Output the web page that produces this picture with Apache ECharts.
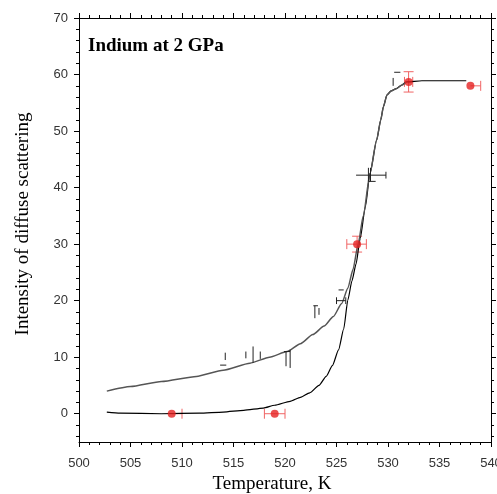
<!DOCTYPE html>
<html>
<head>
<meta charset="utf-8">
<script src="https://cdn.jsdelivr.net/npm/echarts@6/dist/echarts.min.js"></script>
<style>html,body{margin:0;padding:0;background:#fff;}#c{width:497px;height:494px;}</style>
</head>
<body>
<div id="c"></div>
<script>
// ---- data ----
const xTicks = [500, 505, 510, 515, 520, 525, 530, 535, 540];
const yTicks = [0, 10, 20, 30, 40, 50, 60, 70];
const yMinorTicks = [-4, -2, 2, 4, 6, 8, 12, 14, 16, 18, 22, 24, 26, 28, 32, 34, 36, 38, 42, 44, 46, 48, 52, 54, 56, 58, 62, 64, 66, 68];

// lower (heating) curve, black
const curveLower = [
  [502.7, 0.3], [504, 0.1], [508, 0.0], [511.7, 0.1], [514, 0.3], [516, 0.6], [517.9, 1.0],
  [519, 1.5], [520.5, 2.2], [521.5, 2.9], [522.4, 3.7], [523.3, 5.0], [524.0, 6.6], [524.6, 8.5],
  [525.2, 11.3], [525.7, 15.0], [526.1, 20.1], [526.5, 23.5], [526.9, 26.5], [527.3, 31.0],
  [527.8, 36.6], [528.25, 42.5], [528.9, 48.4], [529.3, 52.0], [529.55, 54.3], [529.9, 56.4],
  [530.3, 57.1], [530.8, 57.5], [531.3, 58.1], [531.8, 58.7], [533.3, 58.9], [537.6, 58.9]
];
// upper (cooling) curve, gray
const curveUpper = [
  [502.7, 4.0], [505, 4.8], [508, 5.7], [511.4, 6.6], [514, 7.7], [516.6, 8.95], [518.5, 10.0],
  [520.2, 11.0], [521.5, 12.4], [522.7, 14.0], [523.8, 15.5], [524.7, 17.2], [525.5, 19.5],
  [526.1, 22.2], [526.6, 25.5], [527.1, 30.0], [527.6, 35.0], [528.25, 42.5], [528.9, 48.4],
  [529.3, 52.0], [529.55, 54.3], [529.9, 56.4], [530.3, 57.1], [530.8, 57.5], [531.3, 58.1], [531.8, 58.7]
];

// red measured points and their error ranges
const redPoints = [[509, 0], [519, 0], [527, 30], [532, 58.7], [538, 58]];
const redErrX = [[509, 510], [518, 520], [526, 527.9], [531.6, 532.4], [538, 539]];
const redErrY = [[0, 0], [0, 0], [28.6, 31.4], [56.9, 60.5], [58, 58]];

// black error-bar fragments (no markers)
const blackErrV = [ // [x, yLow, yHigh]
  [514.2, 9.5, 10.8], [516.2, 9.8, 11.0], [516.9, 9.0, 11.9], [517.6, 9.7, 11.0],
  [520.1, 8.4, 11.0], [520.5, 8.1, 11.3], [522.9, 16.9, 19.1], [523.3, 17.5, 18.7],
  [525.0, 19.4, 20.6], [525.9, 19.4, 20.6], [528.1, 41.1, 43.5], [528.3, 41.1, 43.5],
  [529.8, 41.6, 42.8], [530.5, 58.0, 59.4]
];
const blackErrH = [ // [xLow, xHigh, y]
  [513.7, 514.3, 8.6], [519.9, 520.5, 11.0], [522.75, 523.2, 19.1], [525.0, 525.9, 20.0],
  [525.2, 525.7, 21.9], [526.9, 529.8, 42.2], [528.1, 528.8, 41.1], [530.6, 531.2, 60.4]
];

// ---- chart ----
const chart = echarts.init(document.getElementById('c'), null, {renderer: 'canvas'});
const labelFont = {fontFamily: 'Liberation Sans', fontSize: 13, color: '#333'};
const nameFont = {fontFamily: 'Liberation Serif', fontSize: 19, color: '#000'};
const lineStyle = {color: '#000', width: 1};

function xAxisCfg(pos, showLabel) {
  return {
    type: 'value', position: pos, min: 500, max: 540, interval: 5,
    axisLine: {show: true, onZero: false, lineStyle: lineStyle},
    axisTick: {show: true, inside: false, length: 5, lineStyle: lineStyle},
    minorTick: {show: true, splitNumber: 5, length: 3, lineStyle: lineStyle},
    splitLine: {show: false}, minorSplitLine: {show: false},
    axisLabel: showLabel ? Object.assign({margin: 15, formatter: v => String(v)}, labelFont) : {show: false}
  };
}
function yAxisCfg(pos, major, showLabel) {
  return {
    type: 'value', position: pos, min: -5, max: 70, offset: 0,
    axisLine: {show: major, onZero: false, lineStyle: lineStyle},
    axisTick: {show: true, inside: false, length: major ? 5 : 3, lineStyle: lineStyle,
               customValues: major ? yTicks : yMinorTicks},
    splitLine: {show: false},
    axisLabel: showLabel ? Object.assign({margin: 11, customValues: yTicks}, labelFont) : {show: false}
  };
}

const xBottom = xAxisCfg('bottom', true);
xBottom.name = 'Temperature, K';
xBottom.nameLocation = 'middle';
xBottom.nameGap = 33;
xBottom.nameTextStyle = Object.assign({padding: [0, 26, 0, 0]}, nameFont);

const yLeft = yAxisCfg('left', true, true);
yLeft.name = 'Intensity of diffuse scattering';
yLeft.nameLocation = 'middle';
yLeft.nameGap = 46;
yLeft.nameTextStyle = Object.assign({padding: [0, 0, 0, 12]}, nameFont);

function errRender(items, kind, color) {
  return function (params, api) {
    const d = items[params.dataIndex];
    const children = [];
    const st = {stroke: color, lineWidth: 1};
    if (kind === 'red') {
      const p = redPoints[params.dataIndex];
      const ex = redErrX[params.dataIndex], ey = redErrY[params.dataIndex];
      const cap = 5;
      if (ex[1] > ex[0]) {
        const a = api.coord([ex[0], p[1]]), b = api.coord([ex[1], p[1]]);
        children.push({type: 'line', shape: {x1: a[0], y1: a[1], x2: b[0], y2: b[1]}, style: st});
        if (ex[0] < p[0]) children.push({type: 'line', shape: {x1: a[0], y1: a[1] - cap, x2: a[0], y2: a[1] + cap}, style: st});
        children.push({type: 'line', shape: {x1: b[0], y1: b[1] - cap, x2: b[0], y2: b[1] + cap}, style: st});
      }
      if (ey[1] > ey[0]) {
        const a = api.coord([p[0], ey[0]]), b = api.coord([p[0], ey[1]]);
        children.push({type: 'line', shape: {x1: a[0], y1: a[1], x2: b[0], y2: b[1]}, style: st});
        children.push({type: 'line', shape: {x1: a[0] - cap, y1: a[1], x2: a[0] + cap, y2: a[1]}, style: st});
        children.push({type: 'line', shape: {x1: b[0] - cap, y1: b[1], x2: b[0] + cap, y2: b[1]}, style: st});
      }
    } else if (kind === 'v') {
      const a = api.coord([d[0], d[1]]), b = api.coord([d[0], d[2]]);
      children.push({type: 'line', shape: {x1: a[0], y1: a[1], x2: b[0], y2: b[1]}, style: st});
    } else {
      const a = api.coord([d[0], d[2]]), b = api.coord([d[1], d[2]]);
      children.push({type: 'line', shape: {x1: a[0], y1: a[1], x2: b[0], y2: b[1]}, style: st});
    }
    return {type: 'group', children: children};
  };
}

const option = {
  animation: false,
  backgroundColor: '#fff',
  title: {
    text: 'Indium at 2 GPa', left: 83, top: 32,
    textStyle: {fontFamily: 'Liberation Serif', fontSize: 19, fontWeight: 'bold', color: '#000'}
  },
  grid: {left: 79, right: 6, top: 18, bottom: 52, containLabel: false, outerBoundsMode: 'none'},
  xAxis: [xBottom, xAxisCfg('top', false)],
  yAxis: [yLeft, yAxisCfg('right', true, false), yAxisCfg('left', false, false), yAxisCfg('right', false, false)],
  series: [
    {type: 'line', data: curveLower, showSymbol: false, smooth: 0.2, smoothMonotone: 'x',
     lineStyle: {color: '#000', width: 1.2}, z: 3},
    {type: 'line', data: curveUpper, showSymbol: false, smooth: 0.2, smoothMonotone: 'x',
     lineStyle: {color: '#555', width: 1.5}, z: 4},
    {type: 'custom', data: blackErrV, renderItem: errRender(blackErrV, 'v', '#222'), z: 5},
    {type: 'custom', data: blackErrH, renderItem: errRender(blackErrH, 'h', '#222'), z: 5},
    {type: 'custom', data: redPoints, renderItem: errRender(redPoints, 'red', '#f06464'), z: 2},
    {type: 'scatter', data: redPoints, symbol: 'circle', symbolSize: 8,
     itemStyle: {color: '#e52222'}, z: 6}
  ]
};
chart.setOption(option);
</script>
</body>
</html>
